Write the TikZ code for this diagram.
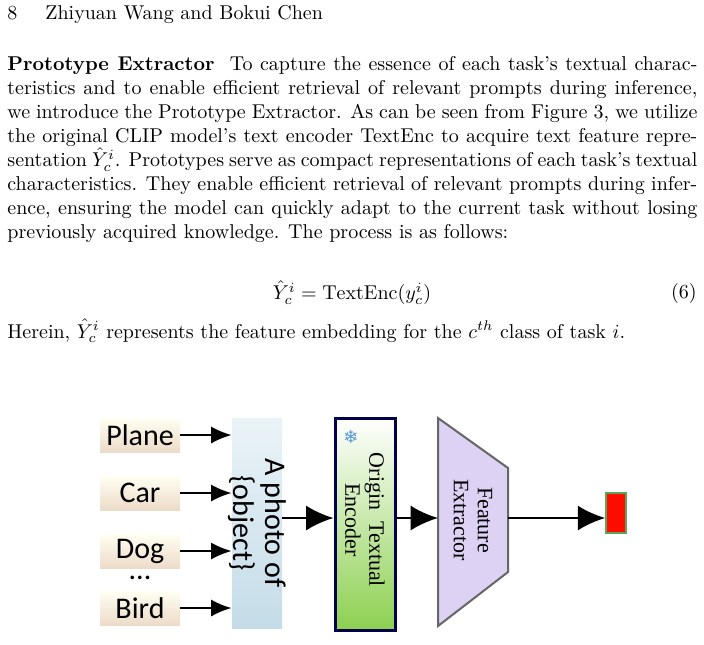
\documentclass[tikz,border=0pt]{standalone}
\usepackage{amsmath}
\usepackage{amssymb}
\usepackage{fontspec}
\newfontfamily\labelfont{Carlito}
\newfontfamily\encfont{Liberation Serif}
\newfontfamily\symfont{DejaVu Sans}
\usetikzlibrary{positioning, arrows.meta, shapes.geometric, calc}
\definecolor{promptblue}{RGB}{196,220,232}
\definecolor{encgreen}{RGB}{140,208,80}

\begin{document}
\begin{tikzpicture}[
    x=0.5pt, y=-0.5pt,
    arrow/.style={-{Latex[length=3.6mm, width=3mm]}, line width=1pt},
    bigarrow/.style={-{Latex[length=4.8mm, width=4.4mm]}, line width=1.3pt},
    word/.style={rectangle, minimum width=40pt, minimum height=17pt, inner sep=0pt,
        top color=yellow!5, bottom color=brown!28, font=\labelfont\fontsize{15}{16}\selectfont},
    vtext/.style={rotate=-90, align=center}
]
    \useasboundingbox (0,0) rectangle (704,644);

    % Header and text
    \node[anchor=base west, inner sep=0pt] (pagenum) at (7,19) {8};
    \node[anchor=base west, inner sep=0pt] (authors) at (45,19) {Zhiyuan Wang and Bokui Chen};
    \node[anchor=north west, inner sep=0pt, text width=345pt, align=justify] (para) at (7,56)
        {\textbf{Prototype Extractor}\ \ To capture the essence of each task's textual charac-\linebreak
        teristics and to enable efficient retrieval of relevant prompts during inference,\linebreak
        we introduce the Prototype Extractor. As can be seen from Figure 3, we utilize\linebreak
        the original CLIP model's text encoder TextEnc to acquire text feature repre-\linebreak
        sentation $\hat{Y}_c^i$. Prototypes serve as compact representations of each task's textual\linebreak
        characteristics. They enable efficient retrieval of relevant prompts during infer-\linebreak
        ence, ensuring the model can quickly adapt to the current task without losing\linebreak
        previously acquired knowledge. The process is as follows:};
    \node[inner sep=0pt] (eq) at (352,293) {$\hat{Y}_c^i = \mathrm{TextEnc}(y_c^i)$};
    \node[anchor=east, inner sep=0pt] (eqnum) at (697,293) {(6)};
    \node[anchor=base west, inner sep=0pt] (herein) at (7,338)
        {Herein, $\hat{Y}_c^i$ represents the feature embedding for the $c^{th}$ class of task $i$.};

    % Class words
    \node[word] (plane) at (140,435) {Plane};
    \node[word] (car) at (140,493) {Car};
    \node[word] (dog) at (140,551) {Dog};
    \node[font=\labelfont\fontsize{15}{16}\selectfont] (dots) at (140,578) {...};
    \node[word] (bird) at (140,608) {Bird};

    % Prompt template
    \node[rectangle, minimum width=25pt, minimum height=105pt, inner sep=0pt,
        top color=promptblue!35!white, bottom color=promptblue] (prompt) at (257,523) {};
    \node[vtext, font=\labelfont\fontsize{15}{16}\selectfont] (prompttxt) at (prompt) {A photo of\\\{object\}};

    % Text encoder
    \node[rectangle, draw=blue!30!black, line width=1.5pt, minimum width=30pt, minimum height=106pt,
        inner sep=0pt, top color=white, bottom color=encgreen] (enc) at (365,524) {};
    \node[vtext, font=\encfont\fontsize{11}{12}\selectfont] (enctxt) at (365,520) {Origin\ \ Textual\\Encoder};
    \node[font=\symfont\fontsize{9}{9}\selectfont, text=cyan!60!blue!70] (snow) at (351,437) {❄};

    % Feature extractor
    \coordinate (fe1) at (438,418);
    \coordinate (fe2) at (508,468);
    \coordinate (fe3) at (508,572);
    \coordinate (fe4) at (438,626);
    \draw[gray!80!black, line width=1pt, fill=blue!50!violet!18] (fe1) -- (fe2) -- (fe3) -- (fe4) -- cycle;
    \node[vtext, font=\encfont\fontsize{11}{12}\selectfont] (fetxt) at (473,520) {Feature\\Extractor};
    \coordinate (fein) at (438,518);
    \coordinate (feout) at (508,518);

    % Prototype
    \node[rectangle, draw=green!30!gray, line width=0.8pt, fill=red!90!orange, minimum width=10pt,
        minimum height=20pt, inner sep=0pt] (proto) at (616,513) {};

    % Connectors
    \foreach \w in {plane, car, dog, bird}
        \draw[arrow] (\w.east) -- (\w.east -| prompt.west);
    \draw[bigarrow] (prompt.east |- fein) -- (enc.west |- fein);
    \draw[bigarrow] (enc.east |- fein) -- (fein);
    \draw[bigarrow] (feout) -- (proto.west |- feout);
\end{tikzpicture}
\end{document}
